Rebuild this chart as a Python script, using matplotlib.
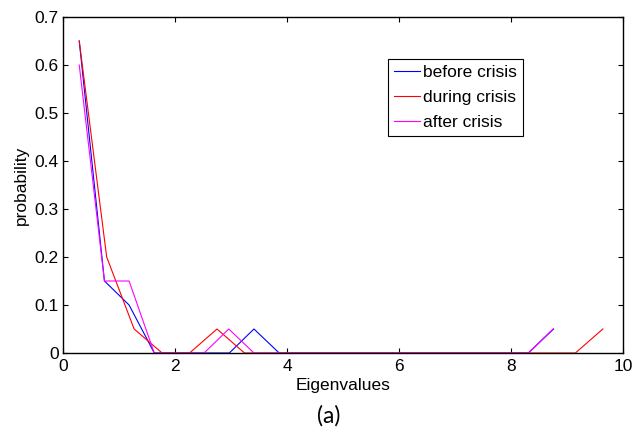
import matplotlib
matplotlib.use("Agg")
import matplotlib.pyplot as plt

# Histogram bin centres and probabilities
x_before = [0.29, 0.74, 1.18, 1.63, 2.07, 2.52, 2.97, 3.41, 3.86, 4.30,
            4.75, 5.20, 5.64, 6.09, 6.53, 6.98, 7.42, 7.87, 8.31, 8.76]
p_before = [0.65, 0.15, 0.10, 0, 0, 0, 0, 0.05, 0, 0,
            0, 0, 0, 0, 0, 0, 0, 0, 0, 0.05]

x_during = [0.29, 0.78, 1.27, 1.77, 2.26, 2.75, 3.24, 3.74, 4.23, 4.72,
            5.21, 5.70, 6.20, 6.69, 7.18, 7.67, 8.16, 8.66, 9.15, 9.64]
p_during = [0.65, 0.20, 0.05, 0, 0, 0.05, 0, 0, 0, 0,
            0, 0, 0, 0, 0, 0, 0, 0, 0, 0.05]

x_after = [0.29, 0.74, 1.18, 1.63, 2.07, 2.52, 2.96, 3.41, 3.85, 4.30,
           4.74, 5.19, 5.63, 6.08, 6.53, 6.97, 7.42, 7.86, 8.31, 8.75]
p_after = [0.60, 0.15, 0.15, 0, 0, 0, 0.05, 0, 0, 0,
           0, 0, 0, 0, 0, 0, 0, 0, 0, 0.05]

x_ticks = [0, 2, 4, 6, 8, 10]
y_ticks = [0, 0.1, 0.2, 0.3, 0.4, 0.5, 0.6, 0.7]
y_ticklabels = ["0", "0.1", "0.2", "0.3", "0.4", "0.5", "0.6", "0.7"]

plt.rcParams.update({
    "font.family": ["Liberation Sans", "DejaVu Sans"],
    "font.size": 12,
})

fig = plt.figure(figsize=(6.36, 4.32), dpi=100)
ax = fig.add_axes([63 / 636, 79 / 432, 560 / 636, 336 / 432])

ax.plot(x_before, p_before, color="#0000FF", linewidth=0.8, label="before crisis")
ax.plot(x_during, p_during, color="#FF0000", linewidth=0.8, label="during crisis")
ax.plot(x_after, p_after, color="#FF00FF", linewidth=0.8, label="after crisis")

ax.set_xlim(0, 10)
ax.set_ylim(0, 0.7)
ax.set_xticks(x_ticks)
ax.set_yticks(y_ticks)
ax.set_yticklabels(y_ticklabels)
ax.tick_params(direction="in", length=3.5, width=0.8, top=True, right=True,
               labelsize=12.5, pad=3)
ax.tick_params(axis="x", pad=4)
for sp in ax.spines.values():
    sp.set_linewidth(1.0)
    sp.set_color("black")

ax.set_xlabel("Eigenvalues", fontsize=12.5, labelpad=3)
ax.set_ylabel("probability", fontsize=12.5, labelpad=4)

leg = ax.legend(
    loc="upper left",
    bbox_to_anchor=(0.580, 0.875),
    fontsize=12.5,
    frameon=True,
    fancybox=False,
    edgecolor="black",
    framealpha=1,
    borderpad=0.35,
    handlelength=1.5,
    handletextpad=0.17,
    labelspacing=0.55,
    borderaxespad=0,
)
leg.get_frame().set_linewidth(0.8)

fig.text(329 / 636, 1 - 416 / 432, "(a)", ha="center", va="center",
         fontsize=16.5, family=["Lato", "DejaVu Sans"])

fig.savefig("out.png", dpi=100, facecolor="white")
